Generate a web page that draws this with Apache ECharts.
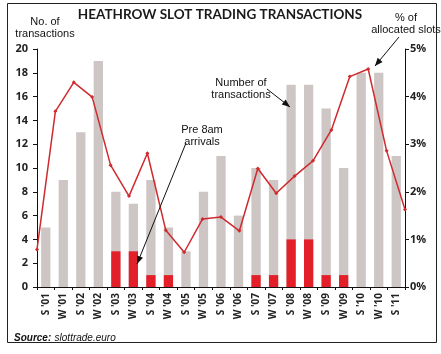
<!DOCTYPE html>
<html><head><meta charset="utf-8">
<script src="https://cdn.jsdelivr.net/npm/echarts@6/dist/echarts.min.js"></script>
<style>html,body{margin:0;padding:0;background:#fff}#c{width:441px;height:354px}</style>
</head><body><div id="c"></div>
<script>
var categories = ["S '01","W '01","S '02","W '02","S '03","W '03","S '04","W '04","S '05","W '05","S '06","W '06","S '07","W '07","S '08","W '08","S '09","W '09","S '10","W '10","S '11"];
var transactions = [5,9,13,19,8,7,9,5,3,8,11,6,10,9,17,17,15,10,18,18,11];
var pre8am = [0,0,0,0,3,3,1,1,0,0,0,0,1,1,4,4,1,1,0,0,0];
var pctAllocated = [0.79,3.69,4.30,3.99,2.56,1.91,2.81,1.19,0.73,1.43,1.47,1.18,2.49,1.97,2.33,2.65,3.30,4.42,4.58,2.86,1.63];
var pointSlots = pctAllocated.map(function(_, i){ return String(i); });
var leftTicks = [0,20,2];
var rightTicks = [0,5,1];

var FONT = "'Open Sans', sans-serif";
var NARROW = "'Liberation Sans Narrow', sans-serif";
var chart = echarts.init(document.getElementById('c'), null, {renderer:'canvas'});
var arrowHead = function(x1,y1,x2,y2,len,w){
  var a = Math.atan2(y2-y1,x2-x1);
  var bx = x2 - len*Math.cos(a), by = y2 - len*Math.sin(a);
  var px = -Math.sin(a)*w, py = Math.cos(a)*w;
  return [[x2,y2],[bx+px,by+py],[bx-px,by-py]];
};
var arrow = function(x1,y1,x2,y2){
  return [
    {type:'line', shape:{x1:x1,y1:y1,x2:x2,y2:y2}, style:{stroke:'#111', lineWidth:1}, z:100},
    {type:'polygon', shape:{points:arrowHead(x1,y1,x2,y2,8,3.2)}, style:{fill:'#111'}, z:100}
  ];
};
var graphics = [
  {type:'rect', shape:{x:7.5,y:3.5,width:429,height:339}, style:{fill:'none', stroke:'#222', lineWidth:1}, silent:true},
  {type:'text', x:220, y:8, style:{text:'HEATHROW SLOT TRADING TRANSACTIONS', font:"bold 13.5px Lato, sans-serif", fill:'#1a1a1a', align:'center'}},
  {type:'text', x:45, y:16, style:{text:'No. of\ntransactions', font:"11px " + NARROW, fill:'#111', align:'center', lineHeight:12}},
  {type:'text', x:406, y:12, style:{text:'% of\nallocated slots', font:"11px " + NARROW, fill:'#111', align:'center', lineHeight:12}},
  {type:'text', x:241, y:77, style:{text:'Number of\ntransactions', font:"11px " + NARROW, fill:'#111', align:'center', lineHeight:12}, z:100},
  {type:'text', x:202, y:124, style:{text:'Pre 8am\narrivals', font:"11px " + NARROW, fill:'#111', align:'center', lineHeight:12}, z:100},
  {type:'text', x:14, y:332, style:{rich:{b:{font:"bold italic 10px " + NARROW, fill:'#111'}, n:{font:"italic 10px " + NARROW, fill:'#111'}}, text:'{b|Source:} {n|slottrade.euro}'}}
].concat(arrow(399,37,375,66)).concat(arrow(267,89,290,107)).concat(arrow(186,143,137,264));

chart.setOption({
  animation:false,
  grid:{left:37, right:36, top:49, bottom:67, containLabel:false},
  xAxis:[
    {type:'category', data:categories, boundaryGap:true,
     axisLine:{lineStyle:{color:'#111', width:1}},
     axisTick:{show:true, length:3, lineStyle:{color:'#111'}},
     axisLabel:{rotate:90, fontSize:10, fontWeight:'bold', color:'#222', fontFamily:FONT, margin:6}},
    {type:'category', data:pointSlots, boundaryGap:false, show:false}
  ],
  yAxis:[
    {type:'value', min:leftTicks[0], max:leftTicks[1], interval:leftTicks[2], position:'left',
     axisLine:{show:true, lineStyle:{color:'#111'}}, splitLine:{show:false},
     axisTick:{show:true, length:4, lineStyle:{color:'#111'}},
     axisLabel:{fontSize:11, fontWeight:'bold', color:'#222', fontFamily:FONT, margin:9}},
    {type:'value', min:rightTicks[0], max:rightTicks[1], interval:rightTicks[2], position:'right',
     axisLine:{show:true, lineStyle:{color:'#111'}}, splitLine:{show:false},
     axisTick:{show:true, length:4, lineStyle:{color:'#111'}},
     axisLabel:{fontSize:11, fontWeight:'bold', color:'#222', fontFamily:FONT, margin:5, formatter:'{value}%'}}
  ],
  series:[
    {type:'bar', data:transactions, xAxisIndex:0, yAxisIndex:0, barWidth:'53%', itemStyle:{color:'#cdc6c4'}, z:2},
    {type:'bar', data:pre8am, xAxisIndex:0, yAxisIndex:0, barWidth:'53%', barGap:'-100%', itemStyle:{color:'#e3202a'}, z:3},
    {type:'line', data:pctAllocated, xAxisIndex:1, yAxisIndex:1, symbol:'diamond', symbolSize:4, showSymbol:true,
     lineStyle:{color:'#cf2a2e', width:1.5}, itemStyle:{color:'#cf2a2e'}, z:5}
  ],
  graphic:graphics
});
</script></body></html>
